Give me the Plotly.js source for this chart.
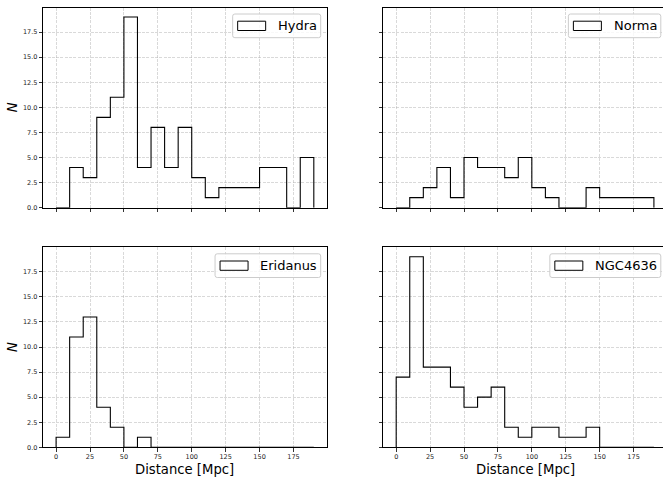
<!DOCTYPE html>
<html>
<head>
<meta charset="utf-8">
<script src="https://cdn.plot.ly/plotly-3.0.1.min.js"></script>
<style>
html, body { margin: 0; padding: 0; overflow: hidden; background: #fff; }
#chart { width: 668px; height: 479px; }
</style>
</head>
<body>
<div id="chart"></div>
<script>
// ---- data ----
const binEdges = [0,10,20,30,40,50,60,70,80,90,100,110,120,130,140,150,160,170,180,190];
const hydra    = [0,4,3,9,11,19,4,8,4,8,3,1,2,2,2,4,4,0,5];
const norma    = [0,1,2,4,1,5,4,4,3,5,2,1,0,0,2,1,1,1,1];
const eridanus = [1,11,13,4,2,0,1,0,0,0,0,0,0,0,0,0,0,0,0];
const ngc4636  = [7,19,8,8,6,4,5,6,2,1,2,2,1,1,2,0,0,0,0];
const clusterNames = ["Hydra", "Norma", "Eridanus", "NGC4636"];
const xTickVals = [0,25,50,75,100,125,150,175];
const yTickVals = [0,2.5,5,7.5,10,12.5,15,17.5];
const xTitle = "Distance [Mpc]";
const yTitle = "<i>N</i>";

// ---- geometry ----
const W = 668, H = 479;
const FONT = '"DejaVu Sans", sans-serif';
const panels = [
  {xd:[43.2, 326.7], yd:[7.5, 207.7]},
  {xd:[383.3, 666.8], yd:[7.5, 207.7]},
  {xd:[43.2, 326.7], yd:[247.3, 447.3]},
  {xd:[383.3, 666.8], yd:[247.3, 447.3]}
];
const px2x = p => p / W;
const px2y = p => 1 - p / H;

function stepXY(counts) {
  const x = [binEdges[0]], y = [0];
  for (let i = 0; i < counts.length; i++) { x.push(binEdges[i]); y.push(counts[i]); }
  x.push(binEdges[binEdges.length - 1]); y.push(0);
  return {x, y};
}

const series = [hydra, norma, eridanus, ngc4636];
const traces = series.map((c, i) => {
  const s = stepXY(c);
  return {
    type: 'scatter', mode: 'lines', x: s.x, y: s.y,
    line: {shape: 'hv', color: '#000', width: 1.1},
    name: clusterNames[i], showlegend: false, hoverinfo: 'x+y',
    xaxis: i === 0 ? 'x' : 'x' + (i + 1),
    yaxis: i === 0 ? 'y' : 'y' + (i + 1)
  };
});

const layout = {
  width: W, height: H,
  margin: {l: 0, r: 0, t: 0, b: 0},
  paper_bgcolor: '#fff', plot_bgcolor: '#fff',
  font: {family: FONT, color: '#000'},
  showlegend: false,
  shapes: [], annotations: []
};

const gridCol = 'rgba(176,176,176,0.6)';
function axBase() {
  return {
    showline: true, mirror: true, linecolor: '#000', linewidth: 1,
    ticks: 'outside', ticklen: 3.5, tickwidth: 0.8, tickcolor: '#000',
    showgrid: true, gridcolor: gridCol, gridwidth: 0.8, griddash: '3px,1.3px',
    zeroline: false, tickfont: {family: FONT, size: 6.5, color: '#222'},
    fixedrange: true
  };
}

panels.forEach((p, i) => {
  const k = i === 0 ? '' : String(i + 1);
  const xa = Object.assign(axBase(), {
    domain: [px2x(p.xd[0]), px2x(p.xd[1])],
    anchor: 'y' + k, range: [-9.5, 199.5],
    tickmode: 'array', tickvals: xTickVals, ticktext: xTickVals.map(String),
    showticklabels: i >= 2, ticklabelstandoff: -1
  });
  const ya = Object.assign(axBase(), {
    domain: [px2y(p.yd[1]), px2y(p.yd[0])],
    anchor: 'x' + k, range: [0, 19.95],
    tickmode: 'array', tickvals: yTickVals, ticktext: yTickVals.map(v => v.toFixed(1)),
    showticklabels: i % 2 === 0
  });
  layout['xaxis' + k] = xa;
  layout['yaxis' + k] = ya;

  // axis titles
  if (i >= 2) {
    layout.annotations.push({
      xref: 'paper', yref: 'paper', x: px2x((p.xd[0] + p.xd[1]) / 2), y: px2y(469.2),
      xanchor: 'center', yanchor: 'middle', showarrow: false,
      text: xTitle, font: {family: FONT, size: 13.2, color: '#000'}
    });
  }
  if (i % 2 === 0) {
    layout.annotations.push({
      xref: 'paper', yref: 'paper', x: px2x(12.7), y: px2y((p.yd[0] + p.yd[1]) / 2),
      xanchor: 'center', yanchor: 'middle', showarrow: false, textangle: -90,
      text: yTitle, font: {family: FONT, size: 13.2, color: '#000'}
    });
  }
});

// ---- legends (matplotlib style boxes) ----
const cv = document.createElement('canvas').getContext('2d');
cv.font = '13px "DejaVu Sans"';
function roundRectPath(x0, y0, x1, y1, r) {
  const X = px2x, Y = px2y;
  return 'M' + X(x0 + r) + ',' + Y(y0) +
    ' L' + X(x1 - r) + ',' + Y(y0) +
    ' Q' + X(x1) + ',' + Y(y0) + ' ' + X(x1) + ',' + Y(y0 + r) +
    ' L' + X(x1) + ',' + Y(y1 - r) +
    ' Q' + X(x1) + ',' + Y(y1) + ' ' + X(x1 - r) + ',' + Y(y1) +
    ' L' + X(x0 + r) + ',' + Y(y1) +
    ' Q' + X(x0) + ',' + Y(y1) + ' ' + X(x0) + ',' + Y(y1 - r) +
    ' L' + X(x0) + ',' + Y(y0 + r) +
    ' Q' + X(x0) + ',' + Y(y0) + ' ' + X(x0 + r) + ',' + Y(y0) + ' Z';
}
panels.forEach((p, i) => {
  const name = clusterNames[i];
  const tw = cv.measureText(name).width;
  const bRight = p.xd[1] - 6, bTop = p.yd[0] + 6.5, bBot = bTop + 23.7;
  const bLeft = bRight - (49 + tw);
  const cy = bTop + 11.85;
  layout.shapes.push({
    type: 'path', xref: 'paper', yref: 'paper', layer: 'above',
    path: roundRectPath(bLeft, bTop, bRight, bBot, 2.2),
    line: {color: '#cccccc', width: 1}, fillcolor: 'rgba(255,255,255,0.8)'
  });
  const pl = bLeft + 5;
  layout.shapes.push({
    type: 'rect', xref: 'paper', yref: 'paper', layer: 'above',
    x0: px2x(pl), x1: px2x(pl + 28), y0: px2y(cy + 4.65), y1: px2y(cy - 4.65),
    line: {color: '#000', width: 1}, fillcolor: 'rgba(255,255,255,0)'
  });
  layout.annotations.push({
    xref: 'paper', yref: 'paper', x: px2x(pl + 28 + 10.3), y: px2y(cy),
    xanchor: 'left', yanchor: 'middle', showarrow: false,
    text: name, font: {family: FONT, size: 13, color: '#000'}
  });
});

Plotly.newPlot('chart', traces, layout, {staticPlot: true, displayModeBar: false});
</script>
</body>
</html>
